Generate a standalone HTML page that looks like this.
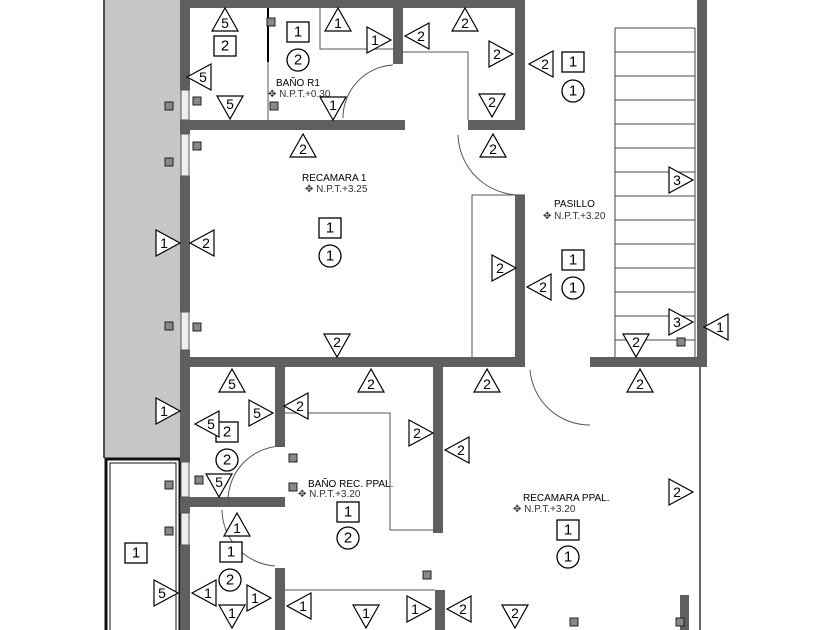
<!DOCTYPE html>
<html><head><meta charset="utf-8"><style>
html,body{margin:0;padding:0;background:#fff;}
svg{display:block;font-family:"Liberation Sans",sans-serif;}
.w{fill:#5f5f5f;}
.t text{font-size:14px;text-anchor:middle;dominant-baseline:central;}
.sq rect{fill:#fff;stroke:#000;stroke-width:1.3;}
.sq text,.ci text{font-size:15px;text-anchor:middle;dominant-baseline:central;}
.ci circle{fill:#fff;stroke:#000;stroke-width:1.3;}
.th{fill:none;stroke:#555;stroke-width:1;}
.lb{font-size:10px;}
.sm{fill:#888;stroke:#222;stroke-width:1;}
</style></head><body>
<svg width="840" height="630" viewBox="0 0 840 630" xmlns="http://www.w3.org/2000/svg">
<defs>
<g id="tu"><polygon points="0,-12 -13,11 13,11" fill="#fff" stroke="#000" stroke-width="1.2"/></g>
<g id="td"><polygon points="0,12 -13,-11 13,-11" fill="#fff" stroke="#000" stroke-width="1.2"/></g>
<g id="tr"><polygon points="13,0 -11,-13 -11,13" fill="#fff" stroke="#000" stroke-width="1.2"/></g>
<g id="tl"><polygon points="-13,0 11,-13 11,13" fill="#fff" stroke="#000" stroke-width="1.2"/></g>
</defs>
<!-- hatched exterior -->
<rect x="104" y="0" width="78" height="458" fill="#c6c6c6"/>
<line x1="104" y1="0" x2="104" y2="458" stroke="#222" stroke-width="1.5"/>
<rect x="106" y="459" width="74" height="175" fill="#fff" stroke="#111" stroke-width="3"/>
<rect x="110" y="463" width="66" height="170" fill="none" stroke="#111" stroke-width="1"/>
<!-- walls -->
<rect class="w" x="180" y="0" width="10" height="90"/>
<rect class="w" x="180" y="120" width="10" height="14"/>
<rect class="w" x="180" y="176" width="10" height="136"/>
<rect class="w" x="180" y="350" width="10" height="112"/>
<rect class="w" x="180" y="497" width="10" height="16"/>
<rect class="w" x="180" y="545" width="10" height="90"/>
<rect class="w" x="180" y="0" width="345" height="8"/>
<rect class="w" x="393" y="0" width="10" height="64"/>
<rect class="w" x="180" y="120" width="225" height="10"/>
<rect class="w" x="515" y="0" width="10" height="130"/>
<rect class="w" x="468" y="120" width="57" height="10"/>
<rect class="w" x="515" y="195" width="10" height="170"/>
<rect class="w" x="180" y="357" width="345" height="10"/>
<rect class="w" x="590" y="357" width="117" height="10"/>
<rect class="w" x="697" y="0" width="10" height="367"/>
<rect class="w" x="275" y="367" width="10" height="80"/>
<rect class="w" x="180" y="497" width="105" height="10"/>
<rect class="w" x="433" y="367" width="10" height="166"/>
<rect class="w" x="275" y="568" width="10" height="62"/>
<rect class="w" x="435" y="590" width="10" height="40"/>
<rect class="w" x="680" y="595" width="9" height="35"/>
<line x1="700" y1="367" x2="700" y2="630" stroke="#333" stroke-width="1.5"/>
<!-- windows -->
<g fill="#eee" stroke="#555" stroke-width="1">
<rect x="181" y="90" width="8" height="30"/><rect x="181" y="134" width="8" height="42"/>
<rect x="181" y="312" width="8" height="38"/><rect x="181" y="462" width="8" height="35"/>
<rect x="181" y="513" width="8" height="32"/></g>
<!-- thin lines -->
<polyline class="th" points="320,8 320,49 393,49"/>
<line x1="268" y1="8" x2="268" y2="62" stroke="#000" stroke-width="2"/>
<line class="th" x1="268" y1="62" x2="268" y2="120"/>
<polyline class="th" points="403,52 468,52 468,120"/>
<polyline class="th" points="525,195 472,195 472,357"/>
<polyline class="th" points="285,413 390,413 390,530 433,530"/>
<polyline class="th" points="285,590 435,590"/>
<!-- doors -->
<path class="th" d="M393,65 A53,53 0 0 0 343,118"/>
<path class="th" d="M458,135 A62,62 0 0 0 520,195"/>
<path class="th" d="M530,370 A60,60 0 0 0 590,425"/>
<path class="th" d="M283,446 A55,55 0 0 0 228,500"/>
<path class="th" d="M222,510 A57,57 0 0 0 275,566"/>
<!-- stairs -->
<g stroke="#444" stroke-width="1" fill="none">
<line x1="615" y1="28" x2="615" y2="357"/><line x1="695" y1="28" x2="695" y2="357"/>
<line x1="615" y1="28" x2="695" y2="28"/><line x1="615" y1="52" x2="695" y2="52"/>
<line x1="615" y1="76" x2="695" y2="76"/><line x1="615" y1="100" x2="695" y2="100"/>
<line x1="615" y1="124" x2="695" y2="124"/><line x1="615" y1="148" x2="695" y2="148"/>
<line x1="615" y1="172" x2="695" y2="172"/><line x1="615" y1="196" x2="695" y2="196"/>
<line x1="615" y1="220" x2="695" y2="220"/><line x1="615" y1="244" x2="695" y2="244"/>
<line x1="615" y1="268" x2="695" y2="268"/><line x1="615" y1="292" x2="695" y2="292"/>
<line x1="615" y1="316" x2="695" y2="316"/><line x1="615" y1="340" x2="695" y2="340"/>
</g>
<!-- small squares -->
<g class="sm">
<rect x="267" y="18" width="8" height="8"/><rect x="193" y="97" width="8" height="8"/><rect x="270" y="102" width="8" height="8"/>
<rect x="165" y="102" width="8" height="8"/><rect x="193" y="142" width="8" height="8"/><rect x="165" y="158" width="8" height="8"/>
<rect x="193" y="323" width="8" height="8"/><rect x="165" y="322" width="8" height="8"/><rect x="677" y="338" width="8" height="8"/>
<rect x="289" y="454" width="8" height="8"/><rect x="195" y="476" width="8" height="8"/><rect x="165" y="481" width="8" height="8"/>
<rect x="289" y="483" width="8" height="8"/><rect x="165" y="527" width="8" height="8"/><rect x="423" y="571" width="8" height="8"/>
<rect x="570" y="618" width="8" height="8"/><rect x="676" y="618" width="8" height="8"/></g>
<!-- labels -->
<text class="lb" x="276" y="86">BAÑO R1</text><text class="lb" x="268" y="97" fill="#333">✥ N.P.T.+0.30</text>
<text class="lb" x="302" y="181">RECAMARA 1</text><text class="lb" x="305" y="192" fill="#333">✥ N.P.T.+3.25</text>
<text class="lb" x="554" y="207">PASILLO</text><text class="lb" x="543" y="219" fill="#333">✥ N.P.T.+3.20</text>
<text class="lb" x="308" y="487">BAÑO REC. PPAL.</text><text class="lb" x="298" y="497" fill="#333">✥ N.P.T.+3.20</text>
<text class="lb" x="523" y="501">RECAMARA PPAL.</text><text class="lb" x="513" y="512" fill="#333">✥ N.P.T.+3.20</text>
<!-- squares -->
<g class="sq">
<g transform="translate(225,46)"><rect x="-11" y="-10" width="22" height="20"/><text>2</text></g>
<g transform="translate(298,32)"><rect x="-11" y="-10" width="22" height="20"/><text>1</text></g>
<g transform="translate(573,62)"><rect x="-11" y="-10" width="22" height="20"/><text>1</text></g>
<g transform="translate(330,228)"><rect x="-11" y="-10" width="22" height="20"/><text>1</text></g>
<g transform="translate(573,260)"><rect x="-11" y="-10" width="22" height="20"/><text>1</text></g>
<g transform="translate(227,432)"><rect x="-11" y="-10" width="22" height="20"/><text>2</text></g>
<g transform="translate(348,512)"><rect x="-11" y="-10" width="22" height="20"/><text>1</text></g>
<g transform="translate(568,530)"><rect x="-11" y="-10" width="22" height="20"/><text>1</text></g>
<g transform="translate(231,552)"><rect x="-11" y="-10" width="22" height="20"/><text>1</text></g>
<g transform="translate(136,553)"><rect x="-11" y="-10" width="22" height="20"/><text>1</text></g>
</g>
<g class="ci">
<g transform="translate(298,60)"><circle r="11"/><text>2</text></g>
<g transform="translate(573,91)"><circle r="11"/><text>1</text></g>
<g transform="translate(330,256)"><circle r="11"/><text>1</text></g>
<g transform="translate(573,288)"><circle r="11"/><text>1</text></g>
<g transform="translate(227,460)"><circle r="11"/><text>2</text></g>
<g transform="translate(348,538)"><circle r="11"/><text>2</text></g>
<g transform="translate(568,557)"><circle r="11"/><text>1</text></g>
<g transform="translate(230,580)"><circle r="11"/><text>2</text></g>
</g>
<!-- triangles -->
<g class="t">
<g transform="translate(225,20)"><use href="#tu"/><text y="3">5</text></g>
<g transform="translate(200,77)"><use href="#tl"/><text x="3">5</text></g>
<g transform="translate(230,107)"><use href="#td"/><text y="-3">5</text></g>
<g transform="translate(338,20)"><use href="#tu"/><text y="3">1</text></g>
<g transform="translate(378,40)"><use href="#tr"/><text x="-3">1</text></g>
<g transform="translate(418,36)"><use href="#tl"/><text x="3">2</text></g>
<g transform="translate(465,20)"><use href="#tu"/><text y="3">2</text></g>
<g transform="translate(500,54)"><use href="#tr"/><text x="-3">2</text></g>
<g transform="translate(542,64)"><use href="#tl"/><text x="3">2</text></g>
<g transform="translate(492,105)"><use href="#td"/><text y="-3">2</text></g>
<g transform="translate(493,146)"><use href="#tu"/><text y="3">2</text></g>
<g transform="translate(333,108)"><use href="#td"/><text y="-3">1</text></g>
<g transform="translate(303,146)"><use href="#tu"/><text y="3">2</text></g>
<g transform="translate(167,243)"><use href="#tr"/><text x="-3">1</text></g>
<g transform="translate(203,243)"><use href="#tl"/><text x="3">2</text></g>
<g transform="translate(337,345)"><use href="#td"/><text y="-3">2</text></g>
<g transform="translate(503,268)"><use href="#tr"/><text x="-3">2</text></g>
<g transform="translate(540,287)"><use href="#tl"/><text x="3">2</text></g>
<g transform="translate(680,180)"><use href="#tr"/><text x="-3">3</text></g>
<g transform="translate(680,322)"><use href="#tr"/><text x="-3">3</text></g>
<g transform="translate(717,327)"><use href="#tl"/><text x="3">1</text></g>
<g transform="translate(636,345)"><use href="#td"/><text y="-3">2</text></g>
<g transform="translate(232,381)"><use href="#tu"/><text y="3">5</text></g>
<g transform="translate(371,381)"><use href="#tu"/><text y="3">2</text></g>
<g transform="translate(487,381)"><use href="#tu"/><text y="3">2</text></g>
<g transform="translate(640,381)"><use href="#tu"/><text y="3">2</text></g>
<g transform="translate(167,411)"><use href="#tr"/><text x="-3">1</text></g>
<g transform="translate(208,424)"><use href="#tl"/><text x="3">5</text></g>
<g transform="translate(260,413)"><use href="#tr"/><text x="-3">5</text></g>
<g transform="translate(297,406)"><use href="#tl"/><text x="3">2</text></g>
<g transform="translate(420,433)"><use href="#tr"/><text x="-3">2</text></g>
<g transform="translate(458,450)"><use href="#tl"/><text x="3">2</text></g>
<g transform="translate(219,485)"><use href="#td"/><text y="-3">5</text></g>
<g transform="translate(680,492)"><use href="#tr"/><text x="-3">2</text></g>
<g transform="translate(237,525)"><use href="#tu"/><text y="3">1</text></g>
<g transform="translate(165,593)"><use href="#tr"/><text x="-3">5</text></g>
<g transform="translate(205,593)"><use href="#tl"/><text x="3">1</text></g>
<g transform="translate(258,598)"><use href="#tr"/><text x="-3">1</text></g>
<g transform="translate(300,606)"><use href="#tl"/><text x="3">1</text></g>
<g transform="translate(232,616)"><use href="#td"/><text y="-3">1</text></g>
<g transform="translate(366,616)"><use href="#td"/><text y="-3">1</text></g>
<g transform="translate(418,609)"><use href="#tr"/><text x="-3">1</text></g>
<g transform="translate(460,609)"><use href="#tl"/><text x="3">2</text></g>
<g transform="translate(515,616)"><use href="#td"/><text y="-3">2</text></g>
</g>
</svg>
</body></html>
